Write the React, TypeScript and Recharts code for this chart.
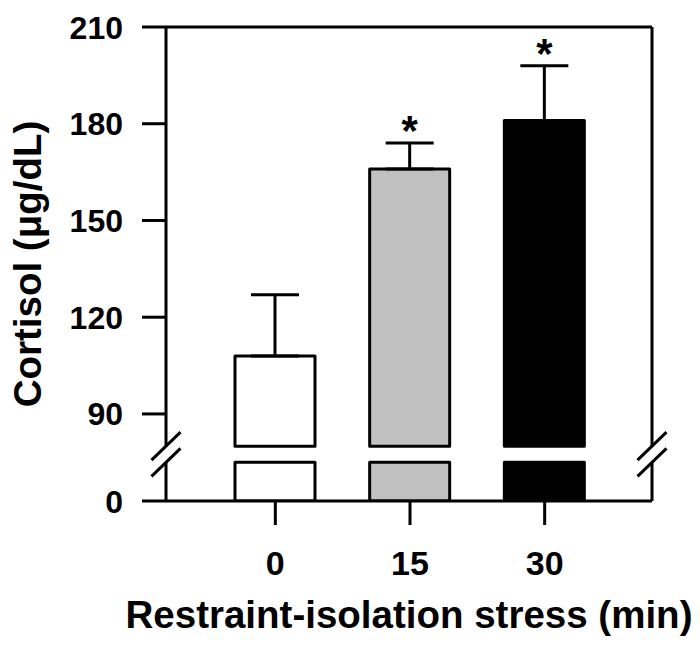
import React from "react"
import {
  ComposedChart,
  Bar,
  XAxis,
  YAxis,
  ErrorBar,
  LabelList,
  ReferenceLine,
} from "recharts"

// ── Data ───────────────────────────────────────────────────────────────────

const groups = ["0", "15", "30"]
const cortisolMean = [108, 166, 181]
const cortisolSem = [19, 8, 17]
const significant = [false, true, true]
const yTicks = [90, 120, 150, 180, 210]

// ── Axis break, in axis units: "0" is drawn at ZERO_AT, the bars and the
//    axes are cut between GAP_LOW and GAP_HIGH ─────────────────────────────

const ZERO_AT = 63
const GAP_LOW = 75
const GAP_HIGH = 80
const Y_MAX = 210

// ── Look ───────────────────────────────────────────────────────────────────

const W = 700
const H = 646
const MARGIN_TOP = 27
const X_AXIS_H = 145
const PLOT_H = H - MARGIN_TOP - X_AXIS_H
const FILLS = ["#ffffff", "#c0c0c0", "#000000"]
const FONT = '"Liberation Sans", Arial, Helvetica, sans-serif'
const LINE = 3
const K = PLOT_H / (Y_MAX - ZERO_AT) // px per axis unit

const rows = groups.map((g, i) => ({
  group: g,
  mean: cortisolMean[i],
  err: [0, cortisolSem[i]],
}))

// ── Pieces ─────────────────────────────────────────────────────────────────

function Slash({ cx, cy }: { cx: number; cy: number }) {
  return (
    <line
      x1={cx - 14.5}
      y1={cy + 14}
      x2={cx + 14.5}
      y2={cy - 14}
      stroke="#000"
      strokeWidth={LINE}
    />
  )
}

function BreakMark({ x, y, value }: { x: number; y: number; value: number }) {
  if (value === GAP_LOW) {
    const gap = (GAP_HIGH - GAP_LOW) * K
    return (
      <g>
        <rect x={x - 4} y={y - gap} width={8} height={gap} fill="#fff" />
        <Slash cx={x} cy={y} />
      </g>
    )
  }
  return <Slash cx={x} cy={y} />
}

function LeftTick(props: any) {
  const { x, y, payload } = props
  const v = payload.value
  if (v === GAP_LOW || v === GAP_HIGH) return <BreakMark x={x} y={y} value={v} />
  return (
    <g>
      <line x1={x - 24} x2={x} y1={y} y2={y} stroke="#000" strokeWidth={LINE} />
      <text
        x={x - 43}
        y={y + 11.5}
        textAnchor="end"
        fontFamily={FONT}
        fontWeight="bold"
        fontSize={32}
        fill="#000"
      >
        {v === ZERO_AT ? "0" : String(v)}
      </text>
    </g>
  )
}

function RightTick(props: any) {
  const { x, y, payload } = props
  return <BreakMark x={x} y={y} value={payload.value} />
}

function XTick(props: any) {
  const { x, y, payload } = props
  return (
    <text
      x={x}
      y={y + 50}
      textAnchor="middle"
      fontFamily={FONT}
      fontWeight="bold"
      fontSize={34}
      fill="#000"
    >
      {payload.value}
    </text>
  )
}

function BrokenBar(props: any) {
  const { x, y, width, height, index } = props
  const base = y + height
  const k = height / (cortisolMean[index] - ZERO_AT)
  const yHigh = base - (GAP_HIGH - ZERO_AT) * k
  const yLow = base - (GAP_LOW - ZERO_AT) * k
  const common = {
    x,
    width,
    fill: FILLS[index],
    stroke: "#000",
    strokeWidth: LINE,
    strokeLinejoin: "round" as const,
  }
  return (
    <g>
      <rect {...common} y={y} height={yHigh - y} />
      <rect {...common} y={yLow} height={base - yLow} />
    </g>
  )
}

function Asterisk(props: any) {
  const { x, y, width, height, value } = props
  const i = props.index ?? cortisolMean.indexOf(value)
  if (!significant[i]) return null
  const k = height / (cortisolMean[i] - ZERO_AT)
  const capY = y - cortisolSem[i] * k
  return (
    <text
      x={x + width / 2}
      y={capY + 2}
      textAnchor="middle"
      fontFamily={FONT}
      fontWeight="bold"
      fontSize={42}
      fill="#000"
    >
      *
    </text>
  )
}

// ── Main export ────────────────────────────────────────────────────────────

export default function App() {
  return (
    <div style={{ position: "absolute", left: 0, top: 0, background: "#fff" }}>
      <ComposedChart
        width={W}
        height={H}
        data={rows}
        margin={{ top: MARGIN_TOP, right: 0, bottom: 0, left: 0 }}
      >
        <XAxis
          dataKey="group"
          height={X_AXIS_H}
          padding={{ left: 42, right: 40 }}
          axisLine={{ stroke: "#000", strokeWidth: LINE }}
          tickLine={{ stroke: "#000", strokeWidth: LINE }}
          tickSize={24}
          tickMargin={0}
          tick={<XTick />}
          label={{
            content: (p: any) => (
              <text
                x={p.viewBox.x + p.viewBox.width / 2}
                y={p.viewBox.y + 127}
                textAnchor="middle"
                fontFamily={FONT}
                fontWeight="bold"
                fontSize={38.5}
                fill="#000"
              >
                Restraint-isolation stress (min)
              </text>
            ),
          }}
        />
        <YAxis
          yAxisId="left"
          type="number"
          width={166}
          domain={[ZERO_AT, Y_MAX]}
          allowDataOverflow
          ticks={[ZERO_AT, GAP_LOW, GAP_HIGH, ...yTicks]}
          interval={0}
          axisLine={{ stroke: "#000", strokeWidth: LINE }}
          tickLine={false}
          tickSize={0}
          tickMargin={0}
          tick={<LeftTick />}
          label={{
            content: (p: any) => {
              const cy = p.viewBox.y + p.viewBox.height / 2
              return (
                <text
                  x={41}
                  y={cy}
                  transform={`rotate(-90, 41, ${cy})`}
                  textAnchor="middle"
                  fontFamily={FONT}
                  fontWeight="bold"
                  fontSize={38.5}
                  fill="#000"
                >
                  Cortisol (μg/dL)
                </text>
              )
            },
          }}
        />
        <YAxis
          yAxisId="right"
          orientation="right"
          type="number"
          width={48}
          domain={[ZERO_AT, Y_MAX]}
          allowDataOverflow
          ticks={[GAP_LOW, GAP_HIGH]}
          interval={0}
          axisLine={{ stroke: "#000", strokeWidth: LINE }}
          tickLine={false}
          tickSize={0}
          tickMargin={0}
          tick={<RightTick />}
        />
        <ReferenceLine
          yAxisId="left"
          y={Y_MAX}
          stroke="#000"
          strokeWidth={LINE}
        />
        <Bar
          yAxisId="left"
          dataKey="mean"
          barSize={80}
          shape={<BrokenBar />}
          isAnimationActive={false}
        >
          <ErrorBar
            dataKey="err"
            direction="y"
            width={24}
            stroke="#000"
            strokeWidth={LINE}
            isAnimationActive={false}
          />
          <LabelList dataKey="mean" content={<Asterisk />} />
        </Bar>
      </ComposedChart>
    </div>
  )
}
